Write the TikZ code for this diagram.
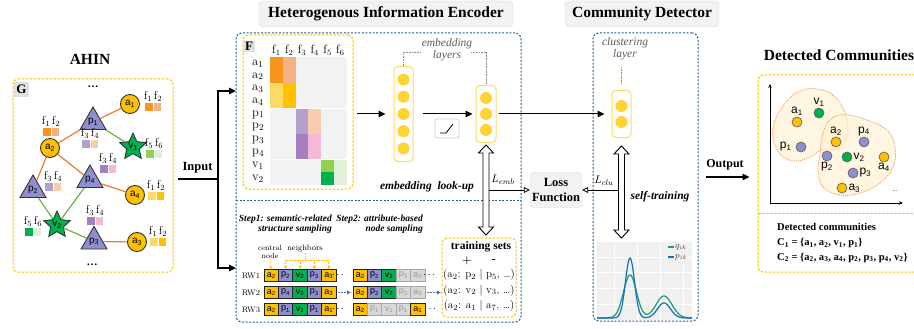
\documentclass[tikz,border=0pt]{standalone}
\usepackage{fontspec}
\newfontfamily\tnr{Liberation Serif}
\newfontfamily\arial{Liberation Sans}
\usetikzlibrary{arrows.meta,shapes.geometric,positioning}

\definecolor{encblue}{RGB}{31,93,153}
\definecolor{dashyellow}{RGB}{255,192,0}
\definecolor{titlegrey}{RGB}{242,242,242}
\definecolor{authgold}{RGB}{255,192,0}
\definecolor{paperlila}{RGB}{143,143,208}
\definecolor{venuegreen}{RGB}{0,176,80}
\definecolor{edgeorange}{RGB}{237,125,49}
\definecolor{edgegreen}{RGB}{112,173,71}
\definecolor{neuron}{RGB}{255,212,50}
\definecolor{layerline}{RGB}{255,217,102}
% Merkmalsfarben
\definecolor{fOrange}{RGB}{247,148,29}
\definecolor{fApricot}{RGB}{244,177,131}
\definecolor{fLemon}{RGB}{255,217,102}
\definecolor{fGold}{RGB}{255,192,0}
\definecolor{fLila}{RGB}{180,160,204}
\definecolor{fPeach}{RGB}{248,203,173}
\definecolor{fPurple}{RGB}{166,127,191}
\definecolor{fPink}{RGB}{245,184,215}
\definecolor{fLime}{RGB}{146,208,80}
\definecolor{fMint}{RGB}{226,239,218}
\definecolor{fGreen}{RGB}{0,176,80}
\definecolor{qgreen}{RGB}{26,160,110}
\definecolor{pblue}{RGB}{20,110,190}
\definecolor{blobfill}{RGB}{255,240,205}
\definecolor{bloborange}{RGB}{240,150,90}

\newcommand\ix[1]{\textsubscript{#1}}

\tikzset{
  titlebox/.style={draw=black!15, fill=titlegrey, rounded corners=4pt, inner sep=0pt,
    font=\tnr\bfseries\fontsize{15.5}{18}\selectfont},
  bigtitle/.style={font=\tnr\bfseries\fontsize{15.5}{18}\selectfont},
  encbox/.style={draw=encblue, line width=1pt, dash pattern=on 2pt off 1.6pt, rounded corners=6pt, inner sep=0pt},
  ybox/.style={draw=dashyellow, line width=1pt, dash pattern=on 2.5pt off 1.5pt, rounded corners=5pt, inner sep=0pt},
  tag/.style={fill=black!12, inner sep=1pt, font=\tnr\bfseries\fontsize{13}{15}\selectfont},
  author/.style={circle, draw=black!80, line width=0.9pt, fill=authgold, minimum size=19pt, inner sep=0pt,
    font=\arial\fontsize{10}{12}\selectfont},
  paper/.style={regular polygon, regular polygon sides=3, draw=black!80, line width=0.9pt, fill=paperlila,
    minimum size=30pt, inner sep=0pt, font=\arial\fontsize{10}{12}\selectfont},
  venue/.style={star, star points=5, star point ratio=2.1, draw=black!80, line width=0.9pt, fill=venuegreen,
    minimum size=27pt, inner sep=0pt, font=\arial\fontsize{10}{12}\selectfont},
  oedge/.style={edgeorange, line width=1.2pt},
  gedge/.style={edgegreen, line width=1.2pt},
  featlabel/.style={inner sep=0pt, font=\fontsize{11.5}{12}\selectfont},
  gdots/.style={inner sep=0pt, font=\tnr\bfseries\fontsize{11}{12}\selectfont},
  layer/.style={draw=layerline, line width=1pt, rounded corners=4pt, inner sep=0pt, fill=white},
  neuron/.style={circle, fill=neuron, minimum size=12pt, inner sep=0pt},
  bracket/.style={black!45, line width=.8pt, dash pattern=on .8pt off .8pt},
  arr/.style={line width=1pt, -{Triangle[length=7pt,width=6.5pt]}},
  hollowtip/.style={line width=.8pt, -{Triangle[open,length=6pt,width=6pt]}},
  italabel/.style={text=black!65, align=center, font=\tnr\itshape\fontsize{11.5}{12}\selectfont},
  bolditalic/.style={font=\tnr\bfseries\itshape\fontsize{11.5}{13}\selectfont},
  steptext/.style={align=right, anchor=east, inner sep=0pt, font=\tnr\bfseries\itshape\fontsize{9.5}{10.5}\selectfont},
  small/.style={inner sep=0pt, align=center, font=\fontsize{7.5}{8}\selectfont},
  nbline/.style={dashyellow, line width=.8pt, dash pattern=on .8pt off .8pt},
  nbarrow/.style={nbline, -{Stealth[length=3pt,width=3pt]}},
  wcell/.style={draw=black!85, line width=.9pt, minimum width=14.4pt, minimum height=12pt, inner sep=0pt,
    font=\arial\fontsize{9}{10}\selectfont},
  wcella/.style={fill=authgold},
  wcellp/.style={fill=paperlila},
  wcellv/.style={fill=venuegreen},
  wcellg/.style={fill=black!15, draw=black!35, text=black!40},
  walkarr/.style={encblue!85, line width=.9pt, dash pattern=on 2pt off 1pt, -{Latex[length=4pt,width=4.5pt]}},
  tsline/.style={inner sep=0pt, font=\fontsize{11}{12}\selectfont},
  lossbox/.style={fill=titlegrey, draw=black!15, rounded corners=4pt, minimum width=52pt, minimum height=35pt,
    align=center, inner sep=0pt, font=\tnr\bfseries\fontsize{12.5}{15}\selectfont},
  cdot/.style={circle, draw=black!65, line width=.6pt, minimum size=10pt, inner sep=0pt},
  clabel/.style={inner sep=1pt, font=\arial\fontsize{12}{13}\selectfont},
  blob/.style={draw=bloborange, line width=.8pt, dash pattern=on 1pt off 1pt, fill=blobfill, fill opacity=.6},
  commtext/.style={anchor=west, inner sep=0pt, font=\tnr\bfseries\fontsize{10.5}{12}\selectfont}
}

% Merkmalspaar mit Beschriftung
\newcommand\featpair[7]{%
  \fill[#4] (#2,#3) rectangle ++(7.5,8);
  \fill[#5] (#2+8.5,#3) rectangle ++(7.5,8);
  \node[featlabel] (#1) at (#2+8,#3-6.5) {f$_{#6}$\,f$_{#7}$};
}

% Zufallspfad als Zellenreihe
\newcommand\walk[4]{%
  \foreach \cs/\ct/\ci [count=\k from 0] in {#4}
    \node[wcell, wcell\cs] (#1-\k) at (#2+7.2+14.4*\k, #3) {\ct\ix{\ci}};
}

% hohler Doppelpfeil
\newcommand\hollowdbl[3]{%
  \draw[line width=.9pt, fill=white]
    (#1-3,#2+8) -- (#1-7.5,#2+8) -- (#1,#2) -- (#1+7.5,#2+8) -- (#1+3,#2+8)
    -- (#1+3,#3-8) -- (#1+7.5,#3-8) -- (#1,#3) -- (#1-7.5,#3-8) -- (#1-3,#3-8) -- cycle;
}

\begin{document}
\begin{tikzpicture}[x=1pt,y=-1pt]
  \useasboundingbox (0,0) rectangle (914,329);

  % Ueberschriften
  \node[bigtitle] (ahin) at (90,59) {AHIN};
  \node[titlebox, minimum width=254pt, minimum height=26pt] (enctitle) at (386,14) {Heterogenous Information Encoder};
  \node[titlebox, minimum width=154pt, minimum height=26pt] (cdtitle) at (642,14) {Community Detector};
  \node[bigtitle] (dettitle) at (839,55) {Detected Communities};

  % Graph G
  \node[ybox, minimum width=160pt, minimum height=193pt] (gbox) at (93,175.5) {};
  \node[tag, minimum size=15pt] (gtag) at (21.5,89.5) {G};
  \node[gdots] (gdotstop) at (93,87) {\ldots};
  \node[gdots] (gdotsbot) at (92,265) {\ldots};

  \node[author] (a1) at (130,104) {a\ix{1}};
  \node[paper]  (p1) at (93,122) {p\ix{1}};
  \node[venue]  (v1) at (133,147) {v\ix{1}};
  \node[author] (a2) at (50,148) {a\ix{2}};
  \node[paper]  (p4) at (90,180) {p\ix{4}};
  \node[paper]  (p2) at (33,190) {p\ix{2}};
  \node[author] (a4) at (135,195) {a\ix{4}};
  \node[venue]  (v2) at (57,225) {v\ix{2}};
  \node[paper]  (p3) at (94,241.5) {p\ix{3}};
  \node[author] (a3) at (137,242) {a\ix{3}};

  % Kanten
  \draw[oedge] (a2) -- (p1);
  \draw[oedge] (p1) -- (a1);
  \draw[gedge] (p1) -- (v1);
  \draw[oedge] (a2) -- (p4);
  \draw[oedge] (a2) -- (p2);
  \draw[oedge] (p4) -- (a4);
  \draw[gedge] (p4) -- (v2);
  \draw[gedge] (p2) -- (v2);
  \draw[gedge] (v2) -- (p3);
  \draw[oedge] (p3) -- (a3);

  % Merkmale an den Knoten
  \featpair{fa1}{145}{103}{fOrange}{fApricot}{1}{2}
  \featpair{fa2}{43}{128}{fOrange}{fApricot}{1}{2}
  \featpair{fp1}{82}{140}{fLila}{fPeach}{3}{4}
  \featpair{fv1}{146}{150}{fLime}{fMint}{5}{6}
  \featpair{fp4}{100}{165}{fPurple}{fPink}{3}{4}
  \featpair{fp2}{45}{183}{fLila}{fPeach}{3}{4}
  \featpair{fa4}{148}{192}{fLemon}{fGold}{1}{2}
  \featpair{fv2}{25}{228}{fGreen}{fMint}{5}{6}
  \featpair{fp3}{87}{217}{fPurple}{fPink}{3}{4}
  \featpair{fa3}{150}{238}{fLemon}{fGold}{1}{2}

  % Eingabe
  \coordinate (split) at (218,179);
  \coordinate (intop) at (236,91);
  \coordinate (inbot) at (236,268);
  \draw[line width=1.2pt, shorten <=4pt] (gbox.east |- split) -- (split);
  \draw[arr, line width=1.2pt] (split) |- (intop);
  \draw[arr, line width=1.2pt] (split) |- (inbot);
  \node[inner sep=0pt, font=\tnr\bfseries\fontsize{12.5}{14}\selectfont] (inputlbl) at (197.5,168) {Input};

  % Encoder
  \node[encbox, minimum width=285pt, minimum height=289pt] (enc) at (378.5,177.5) {};
  \draw[encblue, line width=1pt, dash pattern=on 2pt off 1.6pt] (236,200) -- (521,200);

  % Merkmalsmatrix F
  \node[ybox, minimum width=110pt, minimum height=154pt] (fbox) at (298,112) {};
  \node[tag, minimum width=12pt, minimum height=11pt] (ftag) at (249,46.5) {F};
  \fill[black!5] (270,57) rectangle (346.8,185);
  \fill[fOrange] (270,57) rectangle ++(12.8,25.6);
  \fill[fApricot] (282.8,57) rectangle ++(12.8,25.6);
  \fill[fLemon] (270,82.6) rectangle ++(12.8,25.6);
  \fill[fGold] (282.8,82.6) rectangle ++(12.8,25.6);
  \fill[fLila] (295.6,108.2) rectangle ++(12.8,25.6);
  \fill[fPeach] (308.4,108.2) rectangle ++(12.8,25.6);
  \fill[fPurple] (295.6,133.8) rectangle ++(12.8,25.6);
  \fill[fPink] (308.4,133.8) rectangle ++(12.8,25.6);
  \fill[fLime] (321.2,159.4) rectangle ++(12.8,12.8);
  \fill[fGreen] (321.2,172.2) rectangle ++(12.8,12.8);
  \fill[fMint] (334,159.4) rectangle ++(12.8,25.6);
  \draw[white, line width=.6pt] (270,108.2) -- (346.8,108.2) (270,159.4) -- (346.8,159.4);
  \foreach \i in {1,...,6}
    \node[inner sep=0pt, font=\fontsize{12}{12}\selectfont] (fh\i) at (263.6+12.8*\i,50) {f$_{\i}$};
  \foreach \r/\s [count=\j from 0] in {a/1,a/2,a/3,a/4,p/1,p/2,p/3,p/4,v/1,v/2}
    \node[anchor=west, inner sep=0pt, font=\fontsize{12.5}{12}\selectfont] (row\j) at (252,63.4+12.8*\j) {\r$_{\s}$};

  % Einbettungsschichten
  \node[layer, minimum width=19pt, minimum height=95pt] (emb1) at (403.5,114) {};
  \foreach \d in {-2,...,2}
    \node[neuron] (e1n\d) at (403.5,114+17.2*\d) {};
  \node[layer, minimum width=20pt, minimum height=57pt] (emb2) at (486,114) {};
  \foreach \d in {-1,0,1}
    \node[neuron] (e2n\d) at (486,114+16*\d) {};
  \draw[arr, shorten <=3pt, shorten >=8pt] (fbox.east |- emb1.west) -- (emb1.west);
  \draw[arr, shorten <=9pt, shorten >=3pt] (emb1) -- (emb2);
  \node[draw=black!20, fill=white, rounded corners=2.5pt, minimum width=24pt, minimum height=19pt,
    line width=.7pt] (relu) at (447,128.5) {};
  \draw[line width=.8pt] ([xshift=-7pt,yshift=-4.5pt]relu.center) -- ++(6,0) -- ++(7,-9);
  \node[italabel] (emblbl) at (447,50) {embedding\\layers};
  \draw[bracket] (emb1.north) |- (421,52);
  \draw[bracket] (471,52) -| (emb2.north);
  \node[bolditalic] (lookup) at (427,187) {embedding\ \ look-up};

  % Stichprobenziehung
  \node[steptext] (step1) at (332,224) {Step1: semantic-related\\structure sampling};
  \node[steptext] (step2) at (423,224) {Step2: attribute-based\\node sampling};
  \node[small] (central) at (270,252) {central\\node};
  \node[small, font=\fontsize{8}{8}\selectfont] (neighbors) at (305,249) {neighbors};
  \walk{w1a}{264}{275.5}{a/a/2, p/p/2, v/v/2, p/p/3, a/a/3}
  \walk{w2a}{264}{292.5}{a/a/2, p/p/4, v/v/2, p/p/3, a/a/3}
  \walk{w3a}{264}{309.5}{a/a/2, p/p/1, v/v/1, p/p/1, a/a/1}
  \walk{w1b}{353}{275.5}{a/a/2, p/p/2, v/v/2, g/p/3, g/a/3}
  \walk{w2b}{353}{292.5}{a/a/2, p/p/2, v/v/2, g/p/3, g/a/3}
  \walk{w3b}{353}{309.5}{a/a/2, g/p/1, g/v/1, g/p/1, a/a/1}
  \foreach \r/\y in {1/275.5,2/292.5,3/309.5}
    \node[inner sep=0pt, font=\fontsize{8}{8}\selectfont] (rw\r) at (251,\y) {RW\r};
  \node[inner sep=0pt] (dots1a) at (338,275.5) {$\cdots$};
  \node[inner sep=0pt] (dots3a) at (338,309.5) {$\cdots$};
  \node[inner sep=0pt] (dots1b) at (429,275.5) {$\cdots$};
  \node[inner sep=0pt] (dots3b) at (430,309.5) {$\cdots$};
  \coordinate (nbbar) at (305,260);
  \draw[nbarrow] (central) -- (w1a-0.north);
  \draw[nbline] (neighbors) -- (nbbar);
  \draw[nbline] (w1a-1.north |- nbbar) -- (w1a-4.north |- nbbar);
  \foreach \i in {1,...,4}
    \draw[nbarrow] (w1a-\i.north |- nbbar) -- (w1a-\i.north);
  \draw[walkarr, shorten >=1.5pt] ([xshift=2pt]w2a-4.east) -- (w2b-0.west);
  \draw[walkarr, shorten >=1pt] ([xshift=1.5pt]w2b-4.east) -- (w2b-4.east -| 442,0);

  % Trainingsmengen
  \node[ybox, minimum width=74pt, minimum height=79pt] (tsets) at (479,277.5) {};
  \node[inner sep=0pt, font=\tnr\bfseries\fontsize{11.5}{12}\selectfont] (tstitle) at (481,247) {training sets};
  \node[inner sep=0pt, font=\bfseries\fontsize{11}{12}\selectfont] (plus) at (467,261) {+};
  \node[inner sep=0pt, font=\bfseries\fontsize{11}{12}\selectfont] (minus) at (494,261) {-};
  \node[tsline] (ts1) at (479,275) {(a$_2$: p$_2$ | p$_5$, \ldots)};
  \node[tsline] (ts2) at (479,290.5) {(a$_2$: v$_2$ | v$_3$, \ldots)};
  \node[tsline] (ts3) at (479,306) {(a$_2$: a$_1$ | a$_7$, \ldots)};

  % Community Detector
  \node[encbox, minimum width=105pt, minimum height=288pt] (cdet) at (645.5,177) {};
  \node[layer, minimum width=19pt, minimum height=47pt] (clu) at (621.5,114) {};
  \node[neuron] (cn1) at (621.5,106) {};
  \node[neuron] (cn2) at (621.5,122) {};
  \node[italabel] (clulbl) at (625,49) {clustering\\layer};
  \draw[bracket] (621.5,67) -- ([yshift=6pt]clu.north);
  \draw[arr, shorten <=2pt, shorten >=7pt] (emb2) -- (clu);
  \node[bolditalic] (selftrain) at (660,197) {self-training};

  % Verlustfunktion
  \node[lossbox] (loss) at (556,190) {Loss\\Function};
  \hollowdbl{486}{145}{235}
  \hollowdbl{621.5}{146}{238}
  \coordinate (lembstart) at (489,190);
  \coordinate (lclustart) at (618.5,190);
  \draw[hollowtip] (lembstart) -- (loss.west);
  \draw[hollowtip] (lclustart) -- (loss.east);
  \node[inner sep=0pt, font=\fontsize{11}{12}\selectfont] (lemb) at (503,180) {$L_{emb}$};
  \node[inner sep=0pt, font=\fontsize{11}{12}\selectfont] (lclu) at (604,181) {$L_{clu}$};

  % Verteilungen q und p
  \fill[black!6] (597,242) rectangle (692,320);
  \foreach \gy in {257,272,288,304}
    \draw[white, line width=.6pt] (597,\gy) -- (692,\gy);
  \foreach \gx in {614,637,660,683}
    \draw[white, line width=.6pt] (\gx,242) -- (\gx,320);
  \draw[qgreen, line width=1.2pt] plot[domain=597:692, samples=150, smooth]
    (\x, {318-43*exp(-min((\x-630)^2/84.5,12))-22*exp(-min((\x-664)^2/128,12))});
  \draw[pblue, line width=1.2pt] plot[domain=597:692, samples=150, smooth]
    (\x, {318-60*exp(-min((\x-630)^2/40.5,12))-15*exp(-min((\x-664)^2/84.5,12))});
  \draw[qgreen, line width=1.2pt] (668,247) -- (674,247);
  \draw[pblue, line width=1.2pt] (668,257) -- (674,257);
  \node[anchor=west, inner sep=1pt, text=black!75, font=\fontsize{9}{10}\selectfont] (qlbl) at (674,247) {$q_{ik}$};
  \node[anchor=west, inner sep=1pt, text=black!75, font=\fontsize{9}{10}\selectfont] (plbl) at (674,257) {$p_{ik}$};

  % Ausgabe
  \node[ybox, minimum width=162pt, minimum height=197pt] (detbox) at (839,173.5) {};
  \draw[arr, line width=1.2pt, shorten <=7pt, shorten >=8pt] (cdet.east) -- (cdet.east -| detbox.west);
  \node[inner sep=0pt, font=\tnr\bfseries\fontsize{12}{14}\selectfont] (outlbl) at (725,165) {Output};
  \draw[dashyellow, line width=1pt, dash pattern=on 2.5pt off 1.5pt] (758,213) -- (914,213);

  % Einbettungsraum mit Gemeinschaften
  \coordinate (origin) at (770,203);
  \draw[line width=.8pt, -{Stealth[length=4pt,width=3.5pt]}] (origin) -- (770,84);
  \draw[line width=.8pt, -{Stealth[length=4pt,width=3.5pt]}] (origin) -- (903,203);
  \filldraw[blob] plot[smooth cycle, tension=.7] coordinates {(817,89) (833,95) (844,110) (848,128) (845,143)
    (835,150) (822,150) (810,157) (795,161) (781,155) (773,138) (776,118) (790,98) (803,90)};
  \filldraw[blob] plot[smooth cycle, tension=.7] coordinates {(820,155) (823,133) (832,118) (847,115)
    (867,120) (887,130) (895,147) (893,167) (880,183) (860,193) (840,195) (823,187) (818,170)};
  \node[cdot, fill=authgold, label={[clabel]above:a\ix{1}}] (ca1) at (797,122) {};
  \node[cdot, fill=venuegreen, label={[clabel]above:v\ix{1}}] (cv1) at (819,113) {};
  \node[cdot, fill=paperlila, label={[clabel, label distance=3pt]left:p\ix{1}}] (cp1) at (801,147) {};
  \node[cdot, fill=authgold, label={[clabel]above:a\ix{2}}] (ca2) at (836,142) {};
  \node[cdot, fill=paperlila, label={[clabel]above:p\ix{4}}] (cp4) at (864,142) {};
  \node[cdot, fill=paperlila, label={[clabel]below:p\ix{2}}] (cp2) at (827,156) {};
  \node[cdot, fill=venuegreen, label={[clabel]right:v\ix{2}}] (cv2) at (847,157) {};
  \node[cdot, fill=authgold, label={[clabel]below:a\ix{4}}] (ca4) at (884,157) {};
  \node[cdot, fill=paperlila, label={[clabel]right:p\ix{3}}] (cp3) at (853,173) {};
  \node[cdot, fill=authgold, label={[clabel]right:a\ix{3}}] (ca3) at (842,188) {};
  \node[inner sep=0pt, font=\fontsize{8}{8}\selectfont] (cdots) at (895,191) {\ldots};

  % Ergebnis
  \node[commtext] (dctitle) at (777,227) {Detected communities};
  \node[commtext] (comm1) at (777,243) {C\ix{1} = \{a\ix{1}, a\ix{2}, v\ix{1}, p\ix{1}\}};
  \node[commtext] (comm2) at (777,257.5) {C\ix{2} = \{a\ix{2}, a\ix{3}, a\ix{4}, p\ix{2}, p\ix{3}, p\ix{4}, v\ix{2}\}};
\end{tikzpicture}
\end{document}
